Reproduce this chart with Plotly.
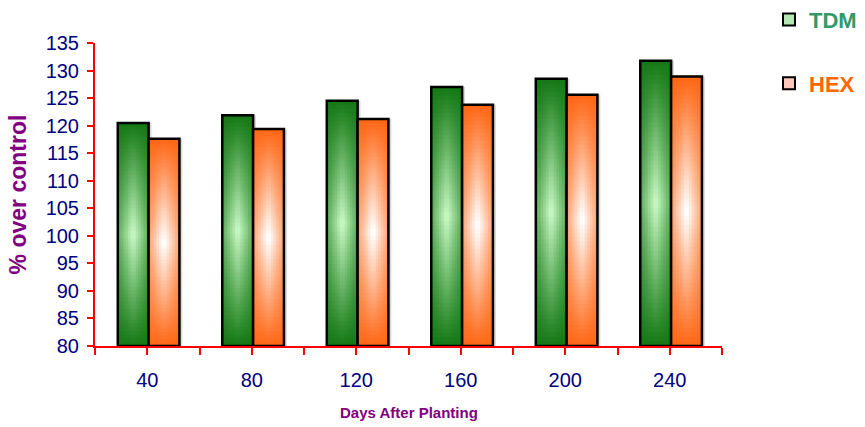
import plotly.graph_objects as go

categories = ["40", "80", "120", "160", "200", "240"]
tdm = [120.5, 121.9, 124.5, 127.0, 128.5, 131.8]
hexv = [117.6, 119.4, 121.2, 123.8, 125.6, 128.9]

Y_MIN, Y_MAX = 80, 135
FONT = "Arial, Liberation Sans, sans-serif"

xs = list(range(len(categories)))
W = 0.295


def hex2rgb(h):
    h = h.lstrip("#")
    return tuple(int(h[i:i + 2], 16) for i in (0, 2, 4))


def mix(c1, c2, f):
    a, b = hex2rgb(c1), hex2rgb(c2)
    return "rgb(%d,%d,%d)" % tuple(round(a[i] + (b[i] - a[i]) * f) for i in range(3))


fig = go.Figure()

series = [
    ("TDM", tdm, "#137813", "#c6f7c2", -0.282, "#339966", "#b5e8b0"),
    ("HEX", hexv, "#ff6614", "#ffffff", 0.013, "#ff6600", "#ffc8b8"),
]

N, M = 60, 6
OVER = 0.2
for name, vals, dark, light, off, tcol, lcol in series:
    heights = [v - Y_MIN for v in vals]
    # soft shadow
    fig.add_trace(go.Bar(x=xs, y=heights, base=[Y_MIN] * len(vals), width=W,
                         offset=off + 0.028, marker=dict(color="#d9d9d9", line=dict(width=0)),
                         showlegend=False, hoverinfo="skip"))
    for j in range(M):
        w = W * (1 - j / M)
        o = off + (W - w) / 2
        h = 0.45 + 0.55 * (j / (M - 1))
        for k in range(N):
            v = abs((k + 0.5) / N - 0.5) * 2
            f = (1 - v) * h
            ext = OVER if k < N - 1 else 0
            fig.add_trace(go.Bar(
                x=xs, y=[hh / N + ext for hh in heights],
                base=[Y_MIN + hh * k / N for hh in heights],
                width=w, offset=o,
                marker=dict(color=mix(dark, light, f), line=dict(width=0)),
                showlegend=False, hoverinfo="skip"))
    fig.add_trace(go.Bar(x=xs, y=heights, base=[Y_MIN] * len(vals), width=W, offset=off,
                         marker=dict(color="rgba(0,0,0,0)", line=dict(color="black", width=2.5)),
                         showlegend=False, hoverinfo="skip"))

for name, vals, dark, light, off, tcol, lcol in series:
    fig.add_trace(go.Bar(x=[None], y=[None], name=f'<span style="color:{tcol}">{name}</span>',
                         legendgroup=name,
                         marker=dict(color=lcol, line=dict(color="black", width=2))))

tickvals = [i * 0.5 - 0.5 for i in range(2 * len(categories) + 1)]
ticktext = [categories[int(t)] if t == int(t) and t >= 0 else "" for t in tickvals]

fig.update_layout(
    width=865, height=427,
    margin=dict(l=95, r=143, t=43, b=81, autoexpand=False),
    paper_bgcolor="white", plot_bgcolor="white",
    barmode="overlay",
    font=dict(family=FONT),
    xaxis=dict(range=[-0.5, len(categories) - 0.5], tickvals=tickvals, ticktext=ticktext,
               showline=True, linecolor="red", linewidth=2, ticks="outside",
               tickcolor="red", tickwidth=2, ticklen=7, showgrid=False, zeroline=False,
               tickfont=dict(color="#000080", size=20, family=FONT), ticklabelstandoff=8),
    yaxis=dict(range=[Y_MIN, Y_MAX], dtick=5, tick0=80,
               showline=True, linecolor="red", linewidth=2, ticks="outside",
               tickcolor="red", tickwidth=2, ticklen=6, showgrid=False, zeroline=False,
               tickfont=dict(color="#000080", size=20, family=FONT), ticklabelstandoff=4),
    legend=dict(x=1.075, xanchor="left", y=1.146, yanchor="top", tracegroupgap=32,
                font=dict(size=22, family=FONT, weight="bold"), bgcolor="rgba(0,0,0,0)"),
    annotations=[
        dict(text="<b>% over control</b>", xref="paper", yref="paper", x=-0.123, y=0.5,
             xanchor="center", yanchor="middle", textangle=-90, showarrow=False,
             font=dict(size=23, color="#800080", family=FONT)),
        dict(text="<b>Days After Planting</b>", xref="paper", yref="paper", x=0.5, y=-0.22,
             xanchor="center", yanchor="middle", showarrow=False,
             font=dict(size=15, color="#800080", family=FONT)),
    ],
)

fig.write_html("out.html")
